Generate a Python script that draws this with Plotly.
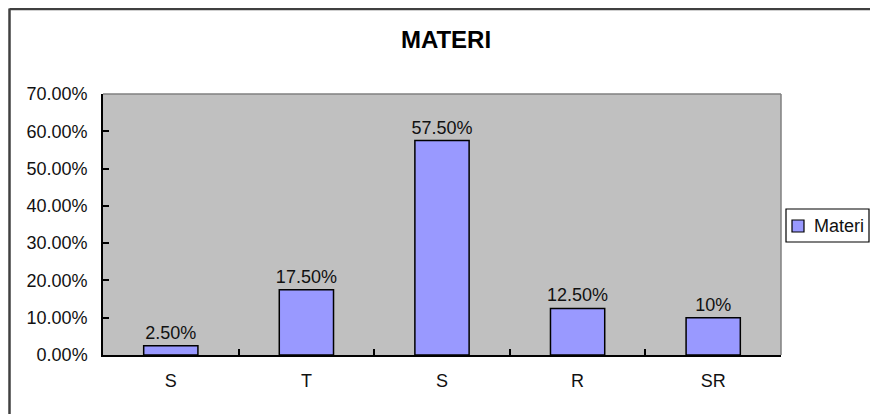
import plotly.graph_objects as go

categories = ["S", "T", "S", "R", "SR"]
values = [0.025, 0.175, 0.575, 0.125, 0.10]
value_labels = ["2.50%", "17.50%", "57.50%", "12.50%", "10%"]
y_ticks = [0.0, 0.1, 0.2, 0.3, 0.4, 0.5, 0.6, 0.7]
series_name = "Materi"

FONT = "Liberation Sans, Arial, sans-serif"
TXT = "#111111"
BAR_COLOR = "#9999FF"
positions = list(range(len(categories)))

# the page body adds an 8px offset; work in figure pixels
OFF = 8
W, H = 878, 414
PX0, PX1, PY0, PY1 = 103 - OFF, 781 - OFF, 94 - OFF, 355 - OFF
L, R, T, B = PX0, W - PX1, PY0, H - PY1
pw, ph = PX1 - PX0, PY1 - PY0


def px(xp):
    return (xp - OFF - PX0) / pw


def py(yp):
    return (PY1 - (yp - OFF)) / ph


fig = go.Figure()
fig.add_trace(go.Bar(
    x=positions, y=values, name=series_name,
    text=value_labels, textposition="outside", cliponaxis=False, constraintext="none",
    textfont=dict(family=FONT, size=18, color=TXT),
    marker=dict(color=BAR_COLOR, line=dict(color="#000000", width=1.5)),
    width=0.4, showlegend=False,
))

fig.update_layout(
    width=W, height=H,
    margin=dict(l=L, r=R, t=T, b=B, autoexpand=False),
    paper_bgcolor="white", plot_bgcolor="#C0C0C0",
    title=dict(text="<b>MATERI</b>", x=(446 - OFF) / W, xanchor="center",
               y=1 - (40 - OFF) / H, yanchor="middle",
               font=dict(family=FONT, size=24, color="#000000")),
    font=dict(family=FONT, size=18, color=TXT),
    showlegend=False,
    xaxis=dict(range=[-0.5, 4.5], tickmode="array", tickvals=positions, ticktext=categories,
               ticks="", showgrid=False, zeroline=False, showline=True, automargin=False,
               linecolor="#000000", linewidth=1.5,
               minor=dict(tickmode="array", tickvals=[p + 0.5 for p in positions[:-1]],
                          ticks="inside", ticklen=6, tickcolor="#000000", tickwidth=1.5, showgrid=False),
               tickfont=dict(family=FONT, size=18, color=TXT), ticklabelstandoff=9,
               fixedrange=True),
    yaxis=dict(range=[0, 0.7], tickmode="array", tickvals=y_ticks, tickformat=".2%",
               ticks="inside", ticklen=6, tickcolor="#000000", tickwidth=1.5, automargin=False,
               showgrid=False, zeroline=False, showline=True, linecolor="#000000", linewidth=1.5,
               tickfont=dict(family=FONT, size=18, color=TXT), ticklabelstandoff=10,
               fixedrange=True),
    shapes=[
        dict(type="line", xref="paper", yref="paper", x0=0, x1=1, y0=1, y1=1,
             line=dict(color="#808080", width=1.5)),
        dict(type="line", xref="paper", yref="paper", x0=1, x1=1, y0=0, y1=1,
             line=dict(color="#808080", width=1.5)),
        # outer chart frame
        dict(type="line", xref="paper", yref="paper", x0=px(9.5), x1=px(9.5),
             y0=py(430), y1=py(8.5), line=dict(color="#404040", width=2.5)),
        dict(type="line", xref="paper", yref="paper", x0=px(9.5), x1=px(890),
             y0=py(9), y1=py(9), line=dict(color="#404040", width=2.5)),
        # legend box and key
        dict(type="rect", xref="paper", yref="paper", x0=px(786), x1=px(869),
             y0=py(242), y1=py(209), line=dict(color="#000000", width=1.2), fillcolor="white"),
        dict(type="rect", xref="paper", yref="paper", x0=px(792), x1=px(804),
             y0=py(232), y1=py(220), line=dict(color="#000000", width=1.2), fillcolor=BAR_COLOR),
    ],
    annotations=[
        dict(text=series_name, xref="paper", yref="paper", x=px(812), y=py(226),
             xanchor="left", yanchor="middle", showarrow=False,
             font=dict(family=FONT, size=18, color=TXT)),
    ],
)

fig.write_html("out.html")
